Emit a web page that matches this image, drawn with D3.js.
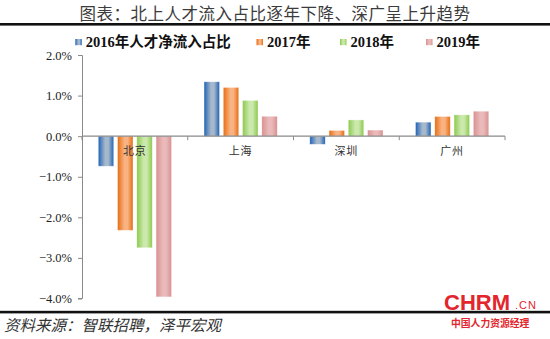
<!DOCTYPE html>
<html><head><meta charset="utf-8">
<script src="https://cdn.jsdelivr.net/npm/d3@7"></script>
<style>
body{margin:0;background:#fff;}
svg{display:block;}
</style></head>
<body>
<script>
const categories = ["北京", "上海", "深圳", "广州"];
const seriesNames = ["2016年人才净流入占比", "2017年", "2018年", "2019年"];
const v2016 = [-0.74, 1.34, -0.20, 0.345];
const v2017 = [-2.32, 1.20, 0.14, 0.485];
const v2018 = [-2.75, 0.88, 0.40, 0.525];
const v2019 = [-3.96, 0.49, 0.15, 0.615];
const yTicks = [2, 1, 0, -1, -2, -3, -4];
const titleText = "图表：北上人才流入占比逐年下降、深广呈上升趋势";
const sourceText = "资料来源：智联招聘，泽平宏观";

const seriesValues = [v2016, v2017, v2018, v2019];
const edgeColors = ["#1f63b5", "#e66d12", "#8cc94c", "#d99090"];
const midColors = ["#a6b8cb", "#f9b382", "#cbe9ad", "#eababa"];

const W = 550, H = 339;
const svg = d3.select("body").append("svg").attr("width", W).attr("height", H);
const defs = svg.append("defs");
seriesNames.forEach((s, i) => {
  const g = defs.append("linearGradient").attr("id", "g" + i)
    .attr("x1", "0%").attr("x2", "100%").attr("y1", "0%").attr("y2", "0%");
  g.append("stop").attr("offset", "0%").attr("stop-color", edgeColors[i]);
  g.append("stop").attr("offset", "45%").attr("stop-color", midColors[i]);
  g.append("stop").attr("offset", "65%").attr("stop-color", midColors[i]);
  g.append("stop").attr("offset", "100%").attr("stop-color", edgeColors[i]);
});

// Title
svg.append("text").attr("x", 275).attr("y", 19.5).attr("text-anchor", "middle")
  .attr("font-family", "Noto Sans CJK SC").attr("font-size", 16.5)
  .attr("letter-spacing", 0.5)
  .attr("fill", "#3c3c3c").text(titleText);
svg.append("rect").attr("x", 0).attr("y", 23).attr("width", W).attr("height", 2.6).attr("fill", "#111");
svg.append("rect").attr("x", 0).attr("y", 310.8).attr("width", W).attr("height", 2.6).attr("fill", "#111");

// Legend
const legendX = [75.3, 256.5, 340, 426];
seriesNames.forEach((s, i) => {
  svg.append("rect").attr("x", legendX[i]).attr("y", 39).attr("width", 6.5).attr("height", 6.2)
    .attr("fill", "url(#g" + i + ")");
  svg.append("text").attr("x", legendX[i] + 10.5).attr("y", 46.5)
    .attr("font-family", "Liberation Serif, Noto Sans CJK SC").attr("font-weight", "bold")
    .attr("font-size", 14.5).attr("fill", "#111").text(s);
});

// Scales
const y = d3.scaleLinear().domain([-4, 2]).range([298.5, 55]);
const x0 = d3.scaleBand().domain(categories).range([82, 505]).paddingInner(0).paddingOuter(0);
const x1 = d3.scaleBand().domain(d3.range(4)).range([16.3, 89.5]).paddingInner(0.2).paddingOuter(0);

// Y axis
const yAxis = d3.axisLeft(y).tickValues(yTicks).tickSize(4).tickFormat(d => d3.format(".1f")(d) + "%");
const ya = svg.append("g").attr("transform", "translate(82,0)").call(yAxis);
ya.select(".domain").attr("stroke", "#8a8a8a").attr("d", "M-4,55.5H0.5V298.5H-4");
ya.selectAll(".tick line").attr("stroke", "#8a8a8a");
ya.selectAll(".tick text").attr("font-family", "Liberation Serif").attr("font-size", 12.5)
  .attr("fill", "#222").attr("x", -10);

// Bars
categories.forEach((c, ci) => {
  seriesValues.forEach((vals, si) => {
    const v = vals[ci];
    const bx = x0(c) + x1(si);
    const top = y(Math.max(0, v)), bot = y(Math.min(0, v));
    svg.append("rect").attr("x", bx).attr("y", top).attr("width", x1.bandwidth())
      .attr("height", bot - top).attr("fill", "url(#g" + si + ")")
      .attr("stroke", "rgba(255,255,255,0.5)").attr("stroke-width", 0.6);
  });
});

// X axis
const xa = svg.append("g").attr("transform", "translate(0," + y(0) + ")");
xa.append("line").attr("x1", 82).attr("x2", 505).attr("y1", 0).attr("y2", 0).attr("stroke", "#8a8a8a").attr("stroke-width", 1.2);
const bounds = categories.map(c => x0(c)).concat([x0.range()[1]]);
xa.selectAll("line.tk").data(bounds).enter().append("line").attr("class", "tk")
  .attr("x1", d => d).attr("x2", d => d).attr("y1", 0).attr("y2", 4).attr("stroke", "#8a8a8a");
xa.selectAll("text.cl").data(categories).enter().append("text").attr("class", "cl")
  .attr("x", d => x0(d) + x0.bandwidth() / 2).attr("y", 19)
  .attr("text-anchor", "middle").attr("font-family", "Noto Sans CJK SC")
  .attr("font-size", 11).attr("letter-spacing", 1).attr("fill", "#333").text(d => d);

// Source
svg.append("text").attr("x", 4).attr("y", 331).attr("font-family", "Noto Sans CJK SC")
  .attr("font-style", "italic").attr("font-size", 15.5).attr("fill", "#333").text(sourceText);

// Logo
svg.append("text").attr("x", 444).attr("y", 309.5).attr("font-family", "Liberation Sans")
  .attr("font-weight", "bold").attr("font-size", 22).attr("fill", "#e3262d").text("CHRM");
svg.append("text").attr("x", 515).attr("y", 308.5).attr("font-family", "Liberation Sans")
  .attr("font-size", 11).attr("letter-spacing", 1).attr("fill", "#e3262d").text(".CN");
svg.append("text").attr("x", 451).attr("y", 326.5).attr("font-family", "Noto Sans CJK SC")
  .attr("font-weight", "bold").attr("font-size", 9.8).attr("fill", "#e3262d").text("中国人力资源经理");
</script>
</body></html>
